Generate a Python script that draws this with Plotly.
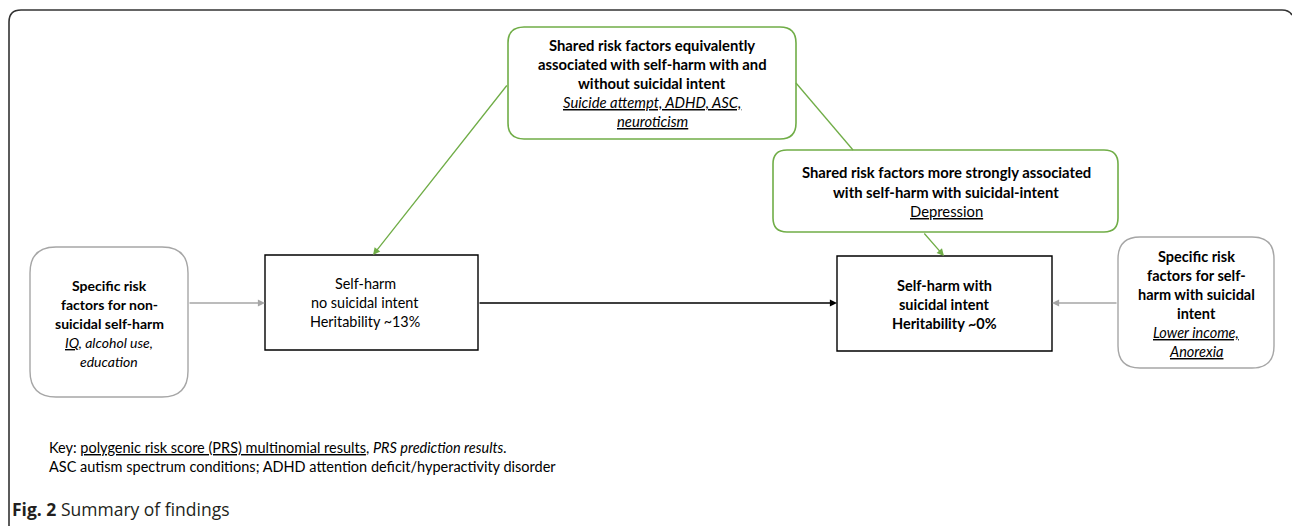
import plotly.graph_objects as go

W, H = 1292, 526

# ---- text content ----
top_shared_lines = ["<b>Shared risk factors equivalently</b>",
                    "<b>associated with self-harm with and</b>",
                    "<b>without suicidal intent</b>",
                    "<i><u>Suicide attempt, ADHD, ASC,</u></i>",
                    "<i><u>neuroticism</u></i>"]
strong_shared_lines = ["<b>Shared risk factors more strongly associated</b>",
                       "<b>with self-harm with suicidal-intent</b>",
                       "<u>Depression</u>"]
nonsuicidal_spec_lines = ["<b>Specific risk</b>",
                          "<b>factors for non-</b>",
                          "<b>suicidal self-harm</b>",
                          "<i><u>IQ</u>, alcohol use,</i>",
                          "<i>education</i>"]
suicidal_spec_lines = ["<b>Specific risk</b>",
                       "<b>factors for self-</b>",
                       "<b>harm with suicidal</b>",
                       "<b>intent</b>",
                       "<i><u>Lower income,</u></i>",
                       "<i><u>Anorexia</u></i>"]
nssh_lines = ["Self-harm", "no suicidal intent", "Heritability ~13%"]
ssh_lines = ["<b>Self-harm with</b>", "<b>suicidal intent</b>", "<b>Heritability ~0%</b>"]
key_lines = ["Key: <u>polygenic risk score (PRS) multinomial results</u>, <i>PRS prediction results.</i>",
             "ASC autism spectrum conditions; ADHD attention deficit/hyperactivity disorder"]
caption = "<b>Fig. 2</b> Summary of findings"

GREEN = "#70AD47"
GREY = "#A6A6A6"
FONT = "Lato"

fig = go.Figure()
shapes = []
annotations = []


def rrect(x0, y0, x1, y1, r):
    return (f"M {x0+r},{y0} L {x1-r},{y0} Q {x1},{y0} {x1},{y0+r} "
            f"L {x1},{y1-r} Q {x1},{y1} {x1-r},{y1} L {x0+r},{y1} "
            f"Q {x0},{y1} {x0},{y1-r} L {x0},{y0+r} Q {x0},{y0} {x0+r},{y0} Z")


def add_lines(lines, cx, y_first, step, size=14, color="#000", anchor="center"):
    for i, t in enumerate(lines):
        annotations.append(dict(x=cx, y=y_first + i * step, xref="x", yref="y",
                                text=t, showarrow=False, xanchor=anchor, yanchor="middle",
                                font=dict(family=FONT, size=size, color=color)))


def arrow(x0, y0, x1, y1, color, width=1.3, head=True):
    annotations.append(dict(x=x1, y=y1, ax=x0, ay=y0, xref="x", yref="y", axref="x", ayref="y",
                            text="", showarrow=True, arrowhead=2 if head else 0, arrowsize=1.1,
                            arrowwidth=width, arrowcolor=color, standoff=0, startstandoff=0))


# outer frame
shapes.append(dict(type="path", path="M 9,540 L 9,22 Q 9,10 21,10 L 1282,10 Q 1289,10 1292,15",
                   line=dict(color="#333", width=1.6), xref="x", yref="y"))

# boxes
shapes.append(dict(type="path", path=rrect(508, 27, 796, 139, 16), line=dict(color=GREEN, width=1.6),
                   fillcolor="white", xref="x", yref="y"))
shapes.append(dict(type="path", path=rrect(773, 150, 1118, 232, 14), line=dict(color=GREEN, width=1.6),
                   fillcolor="white", xref="x", yref="y"))
shapes.append(dict(type="path", path=rrect(30, 247, 188, 397, 26), line=dict(color=GREY, width=1.4),
                   fillcolor="white", xref="x", yref="y"))
shapes.append(dict(type="path", path=rrect(1118, 237, 1274, 368, 22), line=dict(color=GREY, width=1.4),
                   fillcolor="white", xref="x", yref="y"))
shapes.append(dict(type="rect", x0=265, y0=255, x1=478, y1=350, line=dict(color="#000", width=1.4),
                   xref="x", yref="y"))
shapes.append(dict(type="rect", x0=837, y0=256, x1=1052, y1=351, line=dict(color="#000", width=1.4),
                   xref="x", yref="y"))

# connectors
arrow(508, 84, 373, 255, GREEN)
shapes.append(dict(type="line", x0=796, y0=83, x1=853, y1=150, line=dict(color=GREEN, width=1.3),
                   xref="x", yref="y"))
arrow(923, 232, 944, 256, GREEN)
arrow(188, 303, 265, 303, GREY)
arrow(478, 303, 837, 303, "#000")
arrow(1118, 303, 1052, 303, GREY)

# texts
add_lines(top_shared_lines, 652, 45, 19, size=14.8)
add_lines(strong_shared_lines, 946, 172, 19.5, size=14.8)
add_lines(nonsuicidal_spec_lines, 109, 285, 19)
add_lines(suicidal_spec_lines, 1196, 256, 19, size=14.5)
add_lines(nssh_lines, 365, 283, 19, size=14.4)
add_lines(ssh_lines, 944, 285, 19, size=14.5)
add_lines(key_lines, 47, 447, 19, size=14.5, anchor="left")
annotations.append(dict(x=10, y=509, xref="x", yref="y", text=caption, showarrow=False,
                        xanchor="left", yanchor="middle",
                        font=dict(family="Open Sans", size=17.5, color="#231f20")))

fig.update_layout(
    width=W, height=H, margin=dict(l=0, r=0, t=0, b=0),
    paper_bgcolor="white", plot_bgcolor="white",
    xaxis=dict(range=[0, W], visible=False, fixedrange=True),
    yaxis=dict(range=[H, 0], visible=False, fixedrange=True),
    shapes=shapes, annotations=annotations, showlegend=False,
)
fig.write_html("out.html", config={"displayModeBar": False},
               post_script="document.body.style.margin='0';document.body.style.overflow='hidden';")
